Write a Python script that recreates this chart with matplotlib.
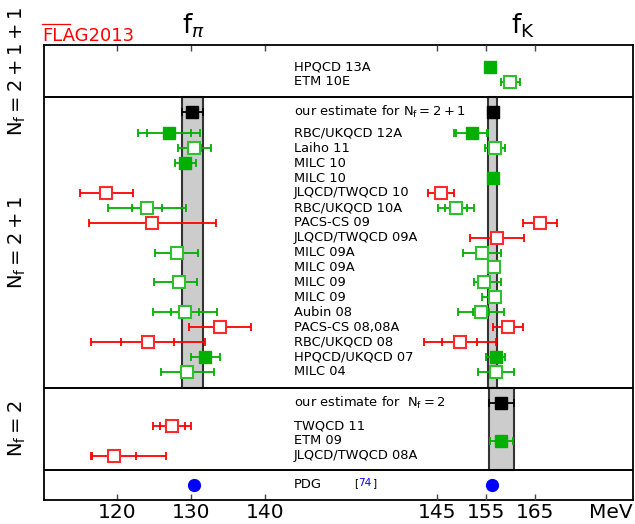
import numpy as np
import matplotlib
matplotlib.use("Agg")
import matplotlib.pyplot as plt
import matplotlib.transforms as mtransforms

# ---- data (MeV) ----
labels = ['HPQCD 13A', 'ETM 10E',
          'RBC/UKQCD 12A', 'Laiho 11', 'MILC 10', 'MILC 10', 'JLQCD/TWQCD 10',
          'RBC/UKQCD 10A', 'PACS-CS 09', 'JLQCD/TWQCD 09A', 'MILC 09A', 'MILC 09A',
          'MILC 09', 'MILC 09', 'Aubin 08', 'PACS-CS 08,08A', 'RBC/UKQCD 08',
          'HPQCD/UKQCD 07', 'MILC 04',
          'TWQCD 11', 'ETM 09', 'JLQCD/TWQCD 08A']
nf_group = ['2+1+1'] * 2 + ['2+1'] * 17 + ['2'] * 3
colors = ['g', 'g',
          'g', 'g', 'g', 'g', 'r', 'g', 'r', 'r', 'g', 'g', 'g', 'g', 'g', 'r', 'r', 'g', 'g',
          'r', 'g', 'r']
filled = [1, 0,
          1, 0, 1, 1, 0, 0, 0, 0, 0, 0, 0, 0, 0, 0, 0, 1, 0,
          0, 1, 0]

fpi = [None, None,
       127.1, 130.5, 129.3, None, 118.6, 124.1, 124.8, None, 128.1, None,
       128.4, None, 129.2, 134.0, 124.2, 132.0, 129.5,
       127.5, None, 119.6]
fpi_stat = [None, None,
            3.0, 0.9, None, None, None, 2.0, None, None, None, None,
            None, None, 1.9, None, 3.6, None, None,
            1.7, None, 3.0]
fpi_lo = [None, None,
          4.2, 2.2, 1.4, None, 3.6, 5.3, 8.6, None, 2.9, None,
          3.4, None, 4.3, 4.2, 7.7, 2.0, 3.5,
          2.6, None, 3.1]
fpi_hi = [None, None,
          4.2, 2.3, 1.4, None, 3.6, 5.3, 8.6, None, 2.9, None,
          2.4, None, 4.4, 4.2, 7.7, 2.0, 3.6,
          2.6, None, 7.1]

fk = [155.7, 159.9,
      152.0, 156.8, None, 156.4, 145.7, 148.8, 165.9, 157.2, 154.1, 156.5,
      154.6, 156.8, 153.9, 159.4, 149.6, 156.9, 157.0,
      None, 158.1, None]
fk_stat = [None, None,
           3.1, None, None, None, None, 2.2, None, None, None, None,
           None, None, 1.6, None, 3.6, None, None,
           None, None, None]
fk_lo = [0.4, 2.0,
         3.6, 2.0, None, 0.5, 2.7, 3.6, 3.5, 5.5, 3.9, 1.0,
         2.1, 2.7, 4.7, 3.1, 7.3, 1.9, 3.7,
         None, 2.4, None]
fk_hi = [0.4, 2.0,
         3.4, 2.0, None, 0.5, 2.7, 3.6, 3.5, 5.5, 3.9, 1.0,
         3.4, 0.9, 4.7, 3.1, 7.3, 1.9, 3.7,
         None, 2.4, None]

# FLAG averages
est_fpi_21, est_fpi_21_err = 130.2, 1.4
est_fk_21, est_fk_21_err = 156.3, 0.9
est_fk_2, est_fk_2_err = 158.1, 2.5
pdg_fpi, pdg_fk = 130.41, 156.1

# ---- layout (row positions, top = 0) ----
row_y = [1.5, 2.45] + [5.93 + i for i in range(17)] + [25.55, 26.56, 27.56]
est_21_y, est_2_y, pdg_y = 4.48, 24.0, 29.5
seps = [3.49, 23.0, 28.52]
y_bottom = 30.54

col = {'g': '#00b000', 'r': '#ff0000'}
edge = {'g': '#2fc02f', 'r': '#ff2a2a'}

fig = plt.figure(figsize=(6.35, 5.24), dpi=100)
rect = [44 / 635, 24 / 524, 588.7 / 635, 455 / 524]
ax = fig.add_axes(rect)
axk = fig.add_axes(rect, sharey=ax, facecolor='none')

ax.set_xlim(110.18, 189.73)
axk.set_xlim(64.73, 184.88)
ax.set_ylim(y_bottom, 0)

for spine in axk.spines.values():
    spine.set_visible(False)
for spine in ax.spines.values():
    spine.set_linewidth(1.3)

ax.set_xticks([120, 130, 140])
axk.set_xticks([145, 155, 165])
for a in (ax, axk):
    a.tick_params(axis='x', direction='in', top=True, bottom=True, length=4,
                  width=1, labelsize=14.5, pad=2, color='#444444')
    a.tick_params(axis='y', left=False, labelleft=False)


def draw_point(a, x, y, lo, hi, stat, c, fill):
    if lo is not None:
        a.errorbar([x], [y], xerr=[[lo], [hi]], fmt='none', ecolor=col[c],
                   elinewidth=1.3, capsize=2.6, capthick=1.3, zorder=4)
    if stat is not None:
        a.plot([x - stat, x + stat], [y, y], '|', color=col[c], ms=5.2, mew=1.3, zorder=4)
    if fill:
        a.plot(x, y, 's', ms=8.2, mfc=col[c], mec=col[c], mew=1, zorder=5)
    else:
        a.plot(x, y, 's', ms=8.2, mfc='white', mec=edge[c], mew=1.5, zorder=5)


# estimate bands
ax.fill_betweenx([seps[0], seps[1]], est_fpi_21 - est_fpi_21_err, est_fpi_21 + est_fpi_21_err,
                 facecolor='#cccccc', edgecolor='#333333', lw=1.5, zorder=1)
axk.fill_betweenx([seps[0], seps[1]], est_fk_21 - est_fk_21_err, est_fk_21 + est_fk_21_err,
                  facecolor='#cccccc', edgecolor='#333333', lw=1.5, zorder=1)
axk.fill_betweenx([seps[1], seps[2]], est_fk_2 - est_fk_2_err, est_fk_2 + est_fk_2_err,
                  facecolor='#cccccc', edgecolor='#333333', lw=1.5, zorder=1)

for s in seps:
    axk.axhline(s, color='black', lw=1.4, zorder=3)

for i in range(len(labels)):
    y = row_y[i]
    if fpi[i] is not None:
        draw_point(ax, fpi[i], y, fpi_lo[i], fpi_hi[i], fpi_stat[i], colors[i], filled[i])
    if fk[i] is not None:
        draw_point(axk, fk[i], y, fk_lo[i], fk_hi[i], fk_stat[i], colors[i], filled[i])

# our estimates
for a, v, e, y in [(ax, est_fpi_21, est_fpi_21_err, est_21_y),
                   (axk, est_fk_21, est_fk_21_err, est_21_y),
                   (axk, est_fk_2, est_fk_2_err, est_2_y)]:
    a.errorbar([v], [y], xerr=[e], fmt='none', ecolor='black', elinewidth=1.3,
               capsize=2.6, capthick=1.3, zorder=4)
    a.plot(v, y, 's', ms=8.2, color='black', zorder=5)

# PDG
ax.plot(pdg_fpi, pdg_y, 'o', ms=8.5, color='#0000ff', zorder=5)
axk.plot(pdg_fk, pdg_y, 'o', ms=8.5, color='#0000ff', zorder=5)

# labels
trans = mtransforms.blended_transform_factory(ax.transAxes, ax.transData)
lx = (294 - 44) / 588.7
fs = 9.4
for i in range(len(labels)):
    ax.text(lx, row_y[i], labels[i], transform=trans, fontsize=fs, va='center', ha='left')
ax.text(lx, est_21_y, r'our estimate for $\mathrm{N_f}=2+1$', transform=trans,
        fontsize=fs, va='center', ha='left')
ax.text(lx, est_2_y, r'our estimate for  $\mathrm{N_f}=2$', transform=trans,
        fontsize=fs, va='center', ha='left')
ax.text(lx, pdg_y, 'PDG', transform=trans, fontsize=fs, va='center', ha='left')
ax.text((354 - 44) / 588.7, pdg_y - 0.1, '[', transform=trans, fontsize=7.5, va='center', ha='left')
ax.text((358.5 - 44) / 588.7, pdg_y - 0.1, '74', transform=trans, fontsize=7.5, va='center',
        ha='left', color='#0000ff')
ax.text((372.5 - 44) / 588.7, pdg_y - 0.1, ']', transform=trans, fontsize=7.5, va='center', ha='left')

# Nf labels
for name, (y0, y1) in [('2+1+1', (0, seps[0])), ('2+1', (seps[0], seps[1])),
                       ('2', (seps[1], seps[2]))]:
    ax.text(-0.045, (y0 + y1) / 2, r'$\mathrm{N_f}=' + name + '$', transform=trans,
            fontsize=14, rotation=90, va='center', ha='center')

# titles and tags
fig.text(193 / 635, 1 - 26 / 524, r'$\mathrm{f}_\pi$', fontsize=19, ha='center', va='center')
fig.text(523 / 635, 1 - 26 / 524, r'$\mathrm{f}_\mathrm{K}$', fontsize=19, ha='center', va='center')
fig.text(42 / 635, 1 - 40.5 / 524, 'FLAG2013', fontsize=13,
         color='#ff0000', ha='left', va='baseline')
fig.add_artist(plt.Line2D([42 / 635, 70 / 635], [1 - 23.8 / 524, 1 - 23.8 / 524],
                          transform=fig.transFigure, color='#ff0000', lw=0.9))
fig.text(633 / 635, 1 - 512 / 524, 'MeV', fontsize=14.5, ha='right', va='center')

fig.savefig('out.png', dpi=100)
